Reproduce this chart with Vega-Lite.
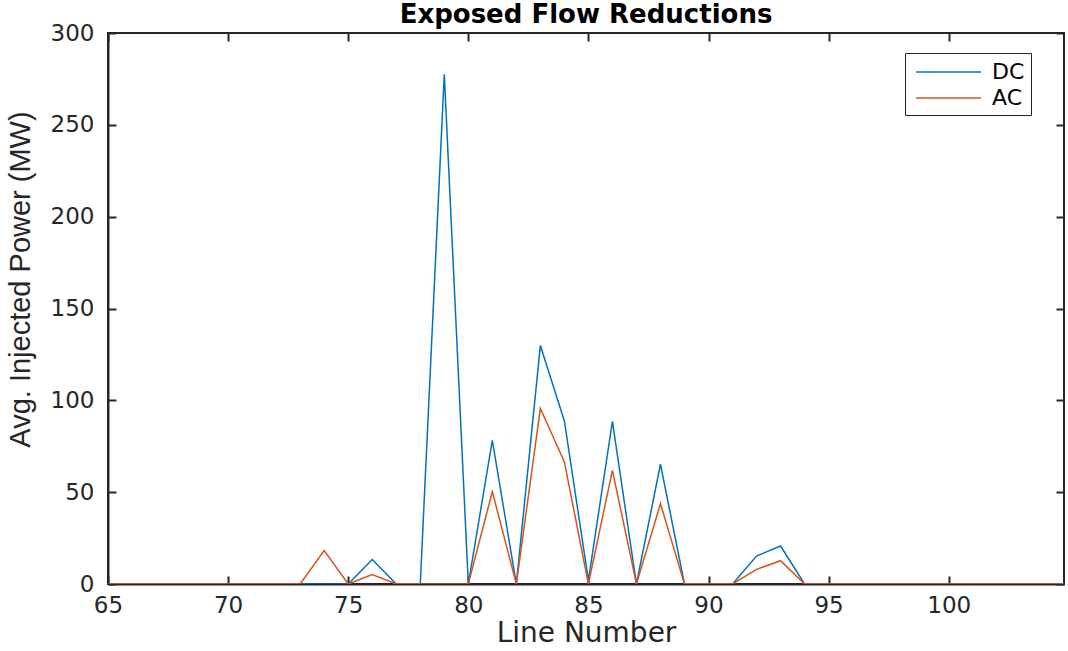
{
  "$schema": "https://vega.github.io/schema/vega-lite/v6.json",
  "width": 956,
  "height": 551,
  "autosize": {"type": "none"},
  "padding": {"left": 108, "top": 33, "right": 4, "bottom": 67},
  "background": "white",
  "title": {
    "text": "Exposed Flow Reductions",
    "font": "DejaVu Sans",
    "fontSize": 26,
    "fontWeight": "bold",
    "color": "#000000",
    "anchor": "middle",
    "offset": -6
  },
  "datasets": {
    "flows": [
      {"line": 65, "series": "DC", "power": 0}, {"line": 66, "series": "DC", "power": 0}, {"line": 67, "series": "DC", "power": 0}, {"line": 68, "series": "DC", "power": 0}, {"line": 69, "series": "DC", "power": 0}, {"line": 70, "series": "DC", "power": 0}, {"line": 71, "series": "DC", "power": 0}, {"line": 72, "series": "DC", "power": 0}, {"line": 73, "series": "DC", "power": 0}, {"line": 74, "series": "DC", "power": 0}, {"line": 75, "series": "DC", "power": 0}, {"line": 76, "series": "DC", "power": 13.3}, {"line": 77, "series": "DC", "power": 0}, {"line": 78, "series": "DC", "power": 0}, {"line": 79, "series": "DC", "power": 277.5}, {"line": 80, "series": "DC", "power": 0}, {"line": 81, "series": "DC", "power": 78.2}, {"line": 82, "series": "DC", "power": 0}, {"line": 83, "series": "DC", "power": 129.8}, {"line": 84, "series": "DC", "power": 88.8}, {"line": 85, "series": "DC", "power": 2}, {"line": 86, "series": "DC", "power": 88.6}, {"line": 87, "series": "DC", "power": 0}, {"line": 88, "series": "DC", "power": 65.2}, {"line": 89, "series": "DC", "power": 0}, {"line": 90, "series": "DC", "power": 0}, {"line": 91, "series": "DC", "power": 0}, {"line": 92, "series": "DC", "power": 15.2}, {"line": 93, "series": "DC", "power": 20.7}, {"line": 94, "series": "DC", "power": 0}, {"line": 95, "series": "DC", "power": 0}, {"line": 96, "series": "DC", "power": 0}, {"line": 97, "series": "DC", "power": 0}, {"line": 98, "series": "DC", "power": 0}, {"line": 99, "series": "DC", "power": 0}, {"line": 100, "series": "DC", "power": 0}, {"line": 101, "series": "DC", "power": 0}, {"line": 102, "series": "DC", "power": 0}, {"line": 103, "series": "DC", "power": 0}, {"line": 104, "series": "DC", "power": 0}, {"line": 105, "series": "DC", "power": 0},
      {"line": 65, "series": "AC", "power": 0}, {"line": 66, "series": "AC", "power": 0}, {"line": 67, "series": "AC", "power": 0}, {"line": 68, "series": "AC", "power": 0}, {"line": 69, "series": "AC", "power": 0}, {"line": 70, "series": "AC", "power": 0}, {"line": 71, "series": "AC", "power": 0}, {"line": 72, "series": "AC", "power": 0}, {"line": 73, "series": "AC", "power": 0}, {"line": 74, "series": "AC", "power": 18.2}, {"line": 75, "series": "AC", "power": 0}, {"line": 76, "series": "AC", "power": 5.1}, {"line": 77, "series": "AC", "power": 0}, {"line": 78, "series": "AC", "power": 0}, {"line": 79, "series": "AC", "power": 0}, {"line": 80, "series": "AC", "power": 0}, {"line": 81, "series": "AC", "power": 50.3}, {"line": 82, "series": "AC", "power": 0}, {"line": 83, "series": "AC", "power": 95.6}, {"line": 84, "series": "AC", "power": 66.5}, {"line": 85, "series": "AC", "power": 0}, {"line": 86, "series": "AC", "power": 61.9}, {"line": 87, "series": "AC", "power": 0}, {"line": 88, "series": "AC", "power": 43.7}, {"line": 89, "series": "AC", "power": 0}, {"line": 90, "series": "AC", "power": 0}, {"line": 91, "series": "AC", "power": 0}, {"line": 92, "series": "AC", "power": 8}, {"line": 93, "series": "AC", "power": 12.7}, {"line": 94, "series": "AC", "power": 0}, {"line": 95, "series": "AC", "power": 0}, {"line": 96, "series": "AC", "power": 0}, {"line": 97, "series": "AC", "power": 0}, {"line": 98, "series": "AC", "power": 0}, {"line": 99, "series": "AC", "power": 0}, {"line": 100, "series": "AC", "power": 0}, {"line": 101, "series": "AC", "power": 0}, {"line": 102, "series": "AC", "power": 0}, {"line": 103, "series": "AC", "power": 0}, {"line": 104, "series": "AC", "power": 0}, {"line": 105, "series": "AC", "power": 0}
    ]
  },
  "data": {"name": "flows"},
  "config": {
    "view": {"stroke": "#262626", "strokeWidth": 2},
    "axis": {
      "grid": false,
      "domainColor": "#262626",
      "domainWidth": 2,
      "tickColor": "#262626",
      "tickWidth": 2,
      "tickSize": -8,
      "labelFont": "DejaVu Sans",
      "labelFontSize": 23,
      "labelColor": "#262626",
      "labelFlush": false,
      "labelOverlap": false,
      "titleFont": "Liberation Sans",
      "titleFontWeight": "normal",
      "titleColor": "#262626"
    }
  },
  "resolve": {"axis": {"x": "independent", "y": "independent"}},
  "layer": [
    {
      "mark": {"type": "line", "strokeWidth": 1.5, "clip": true},
      "encoding": {
        "x": {
          "field": "line",
          "type": "quantitative",
          "scale": {"domain": [65, 104.8], "nice": false, "zero": false},
          "axis": {
            "title": "Line Number",
            "titleFont": "DejaVu Sans",
            "titleFontSize": 28,
            "titlePadding": 2,
            "values": [65, 70, 75, 80, 85, 90, 95, 100],
            "labelPadding": 18
          }
        },
        "y": {
          "field": "power",
          "type": "quantitative",
          "scale": {"domain": [0, 300], "nice": false},
          "axis": {
            "title": "Avg. Injected Power (MW)",
            "titleFontSize": 29,
            "titleX": -73,
            "titleY": 246,
            "titleBaseline": "bottom",
            "values": [0, 50, 100, 150, 200, 250, 300],
            "labelPadding": 22
          }
        },
        "color": {
          "field": "series",
          "type": "nominal",
          "scale": {"domain": ["DC", "AC"], "range": ["#0072BD", "#D95319"]},
          "legend": {
            "title": null,
            "orient": "none",
            "legendX": 797,
            "legendY": 20,
            "symbolType": "M-2.7,0H2.7",
            "symbolSize": 576,
            "symbolStrokeWidth": 1.5,
            "symbolOffset": 24.5,
            "labelOffset": 30.5,
            "labelFont": "DejaVu Sans",
            "labelFontSize": 22,
            "labelColor": "#000000",
            "fillColor": "white",
            "strokeColor": "#262626",
            "padding": 6,
            "rowPadding": 2
          }
        },
        "order": {"field": "series"}
      }
    },
    {
      "mark": {"type": "line", "strokeOpacity": 0, "clip": true},
      "encoding": {
        "x": {
          "field": "line",
          "type": "quantitative",
          "axis": {
            "orient": "top",
            "title": null,
            "labels": false,
            "domain": false,
            "values": [65, 70, 75, 80, 85, 90, 95, 100]
          }
        },
        "y": {
          "field": "power",
          "type": "quantitative",
          "axis": {
            "orient": "right",
            "title": null,
            "labels": false,
            "domain": false,
            "values": [0, 50, 100, 150, 200, 250, 300]
          }
        },
        "detail": {"field": "series"}
      }
    }
  ]
}
